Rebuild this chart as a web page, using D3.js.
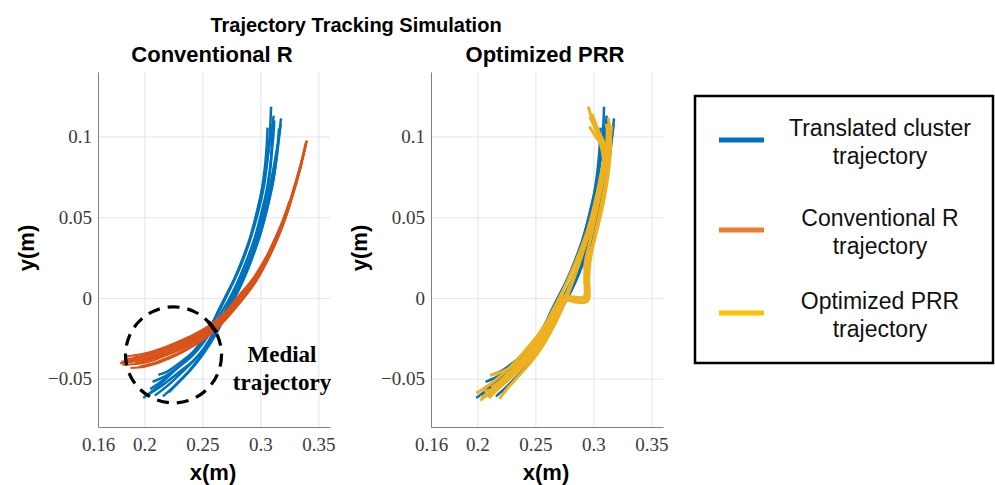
<!DOCTYPE html>
<html>
<head>
<meta charset="utf-8">
<script src="https://cdn.jsdelivr.net/npm/d3@7"></script>
<style>
  body { margin: 0; background: #fff; }
</style>
</head>
<body>
<div id="chart"></div>
<script>
// chart size
const width = 995;
const height = 485;

// tick values shared by both panels
const xTicks = [0.16, 0.2, 0.25, 0.3, 0.35];
const yTicks = [-0.05, 0, 0.05, 0.1];
const xDomain = [0.16, 0.36];
const yDomain = [-0.08, 0.14];

const panelTitles = ["Conventional R", "Optimized PRR"];
const legendLabels = [
  ["Translated cluster", "trajectory"],
  ["Conventional R", "trajectory"],
  ["Optimized PRR", "trajectory"]
];

// translated cluster runs (x, y in m)
const blueRuns = [
  [[0.199,-0.062],[0.21,-0.056],[0.223,-0.047],[0.235,-0.039],[0.245,-0.031],[0.254,-0.022],[0.262,-0.0115],[0.269,-0.0015],[0.276,0.009],[0.283,0.02],[0.29,0.034],[0.296,0.05],[0.301,0.066],[0.304,0.082],[0.3055,0.095],[0.3062,0.1055]],
  [[0.212,-0.0477],[0.22,-0.0455],[0.231,-0.04],[0.242,-0.0335],[0.25,-0.026],[0.257,-0.018],[0.264,-0.008],[0.271,0.002],[0.278,0.012],[0.285,0.024],[0.292,0.038],[0.298,0.053],[0.303,0.069],[0.306,0.085],[0.308,0.1],[0.3092,0.1185]],
  [[0.203,-0.06],[0.215,-0.0545],[0.229,-0.0465],[0.242,-0.039],[0.252,-0.031],[0.261,-0.0215],[0.269,-0.011],[0.277,-0.001],[0.284,0.009],[0.291,0.021],[0.298,0.035],[0.304,0.05],[0.309,0.066],[0.313,0.082],[0.3155,0.097],[0.3178,0.1113]],
  [[0.216,-0.061],[0.226,-0.0545],[0.237,-0.0465],[0.246,-0.0385],[0.254,-0.0305],[0.262,-0.021],[0.27,-0.0105],[0.277,-0.0005],[0.284,0.01],[0.29,0.022],[0.297,0.036],[0.303,0.052],[0.308,0.068],[0.312,0.083],[0.315,0.096],[0.316,0.105]],
  [[0.207,-0.052],[0.218,-0.0485],[0.23,-0.0425],[0.241,-0.036],[0.25,-0.0285],[0.258,-0.02],[0.266,-0.0095],[0.274,0.0005],[0.281,0.011],[0.288,0.023],[0.295,0.037],[0.301,0.053],[0.306,0.069],[0.309,0.085],[0.311,0.099],[0.312,0.11]],
  [[0.209,-0.0605],[0.219,-0.055],[0.231,-0.047],[0.243,-0.0385],[0.252,-0.0305],[0.26,-0.021],[0.268,-0.0105],[0.275,-0.0005],[0.282,0.0095],[0.289,0.021],[0.296,0.035],[0.302,0.051],[0.306,0.067],[0.309,0.083],[0.3098,0.095],[0.3098,0.103]],
  [[0.205,-0.0565],[0.216,-0.051],[0.228,-0.0435],[0.239,-0.036],[0.248,-0.0285],[0.256,-0.0195],[0.263,-0.009],[0.27,0.001],[0.277,0.011],[0.284,0.023],[0.291,0.037],[0.297,0.053],[0.302,0.069],[0.306,0.086],[0.309,0.101],[0.3115,0.113]],
  [[0.221,-0.0585],[0.23,-0.052],[0.24,-0.0445],[0.249,-0.0365],[0.257,-0.028],[0.265,-0.018],[0.272,-0.0075],[0.279,0.0025],[0.286,0.0135],[0.293,0.026],[0.3,0.04],[0.306,0.056],[0.311,0.072],[0.314,0.087],[0.316,0.099],[0.3175,0.1075]]
];

// conventional R runs
const orangeRuns = [
  [[0.179,-0.0405],[0.19,-0.0395],[0.2,-0.0382],[0.214,-0.0352],[0.228,-0.031],[0.243,-0.0255],[0.257,-0.019],[0.27,-0.0105],[0.2825,0.0],[0.295,0.0112],[0.306,0.025],[0.314,0.037],[0.32,0.0475],[0.326,0.06],[0.331,0.072],[0.336,0.085],[0.3399,0.0973]],
  [[0.183,-0.0365],[0.2,-0.0345],[0.214,-0.0315],[0.228,-0.0275],[0.243,-0.0225],[0.257,-0.0165],[0.27,-0.0085],[0.2815,0.0015],[0.294,0.0125],[0.305,0.0255],[0.313,0.0375],[0.3195,0.048],[0.3255,0.06],[0.3305,0.072],[0.3355,0.085],[0.339,0.0955]],
  [[0.188,-0.0435],[0.2,-0.0425],[0.214,-0.0395],[0.228,-0.0355],[0.243,-0.0295],[0.257,-0.0225],[0.27,-0.0135],[0.283,-0.0025],[0.2955,0.0095],[0.3065,0.0235],[0.3145,0.036],[0.3205,0.047],[0.3265,0.06],[0.3315,0.072],[0.336,0.084]],
  [[0.181,-0.0415],[0.2,-0.0402],[0.214,-0.037],[0.228,-0.033],[0.243,-0.0275],[0.257,-0.0205],[0.27,-0.012],[0.2828,-0.001],[0.2952,0.0105],[0.306,0.024],[0.314,0.0365],[0.32,0.0472],[0.326,0.0598],[0.331,0.0718],[0.336,0.0848],[0.3397,0.0968]],
  [[0.185,-0.038],[0.2,-0.0362],[0.214,-0.0332],[0.228,-0.029],[0.243,-0.024],[0.257,-0.0178],[0.27,-0.0095],[0.282,0.0008],[0.2945,0.012],[0.3055,0.0255],[0.3135,0.0375],[0.3195,0.0478],[0.3255,0.0602],[0.3305,0.0722],[0.3355,0.0852],[0.3395,0.0972]],
  [[0.195,-0.0428],[0.205,-0.041],[0.214,-0.0388],[0.228,-0.0345],[0.243,-0.0288],[0.257,-0.0215],[0.27,-0.0128],[0.2832,-0.002],[0.2958,0.01],[0.3065,0.024],[0.3145,0.0365],[0.3205,0.0472],[0.326,0.059]],
  [[0.19,-0.037],[0.2,-0.0355],[0.214,-0.0322],[0.228,-0.0282],[0.243,-0.023],[0.257,-0.017],[0.27,-0.009],[0.2818,0.001],[0.2942,0.0122],[0.3052,0.0255],[0.3132,0.0378],[0.3192,0.048],[0.325,0.06]],
  [[0.192,-0.0405],[0.2,-0.0392],[0.214,-0.036],[0.228,-0.032],[0.243,-0.0265],[0.257,-0.0198],[0.27,-0.0112],[0.2826,-0.0005],[0.295,0.0108],[0.306,0.0245],[0.314,0.037],[0.32,0.0475],[0.326,0.06],[0.331,0.0722],[0.336,0.0852],[0.34,0.0975]],
  [[0.197,-0.0432],[0.205,-0.0418],[0.214,-0.0398],[0.228,-0.0352],[0.243,-0.0292],[0.257,-0.022],[0.27,-0.013],[0.2832,-0.0022],[0.2955,0.0098],[0.306,0.0238]],
  [[0.18,-0.0395],[0.2,-0.0372],[0.214,-0.0342],[0.228,-0.03],[0.243,-0.0248],[0.257,-0.0185],[0.27,-0.01],[0.2822,0.0004],[0.2948,0.0115],[0.3058,0.025],[0.3138,0.037],[0.3198,0.0476],[0.3258,0.06],[0.3308,0.072],[0.3358,0.085],[0.3398,0.097]]
];

// optimized PRR runs
const yellowRuns = [
  [[0.2025,-0.0635],[0.214,-0.057],[0.227,-0.049],[0.241,-0.039],[0.254,-0.028],[0.265,-0.016],[0.274,-0.003],[0.282,0.011],[0.29,0.027],[0.298,0.045],[0.305,0.065],[0.309,0.082],[0.306,0.096],[0.3,0.108],[0.2956,0.1185]],
  [[0.21,-0.062],[0.218,-0.056],[0.23,-0.047],[0.243,-0.036],[0.255,-0.024],[0.265,-0.012],[0.273,-0.002],[0.284,-0.0015],[0.295,-0.002],[0.2952,0.01],[0.2955,0.021],[0.3,0.035],[0.306,0.055],[0.311,0.075],[0.312,0.09],[0.305,0.102],[0.297,0.1123]],
  [[0.199,-0.059],[0.207,-0.0555],[0.219,-0.049],[0.232,-0.04],[0.245,-0.0295],[0.257,-0.018],[0.267,-0.005],[0.276,0.008],[0.285,0.023],[0.294,0.04],[0.302,0.06],[0.308,0.078],[0.309,0.092],[0.302,0.1],[0.2965,0.1062]],
  [[0.209,-0.06],[0.22,-0.052],[0.233,-0.0425],[0.246,-0.031],[0.258,-0.019],[0.267,-0.008],[0.2727,-0.001],[0.284,-0.0025],[0.2935,-0.0025],[0.294,0.008],[0.2945,0.019],[0.301,0.036],[0.308,0.057],[0.313,0.078],[0.315,0.096],[0.3128,0.1117]],
  [[0.211,-0.048],[0.222,-0.0455],[0.235,-0.04],[0.248,-0.031],[0.26,-0.02],[0.27,-0.008],[0.279,0.006],[0.288,0.022],[0.296,0.04],[0.303,0.06],[0.31,0.08],[0.314,0.095],[0.3158,0.107]],
  [[0.203,-0.0615],[0.216,-0.057],[0.232,-0.047],[0.246,-0.036],[0.258,-0.024],[0.268,-0.011],[0.277,0.003],[0.285,0.018],[0.293,0.036],[0.3,0.055],[0.306,0.075],[0.309,0.09],[0.303,0.103],[0.297,0.112]],
  [[0.215,-0.0585],[0.226,-0.05],[0.238,-0.04],[0.25,-0.029],[0.261,-0.017],[0.27,-0.006],[0.2735,0.0],[0.29,0.0],[0.2955,-0.001],[0.296,0.012],[0.297,0.022],[0.302,0.04],[0.309,0.062],[0.313,0.082],[0.313,0.1],[0.311,0.108]],
  [[0.206,-0.058],[0.219,-0.055],[0.234,-0.046],[0.248,-0.036],[0.26,-0.0245],[0.27,-0.0115],[0.278,0.002],[0.286,0.018],[0.294,0.036],[0.301,0.054],[0.307,0.074],[0.311,0.092],[0.312,0.104]],
  [[0.212,-0.0555],[0.222,-0.05],[0.235,-0.041],[0.248,-0.03],[0.259,-0.018],[0.268,-0.006],[0.274,0.001],[0.285,0.0],[0.292,0.0005],[0.2925,0.012],[0.293,0.022],[0.298,0.038],[0.304,0.058],[0.309,0.078],[0.31,0.094],[0.304,0.104],[0.299,0.114]],
  [[0.219,-0.0625],[0.226,-0.056],[0.236,-0.048],[0.247,-0.039],[0.256,-0.03],[0.264,-0.02],[0.271,-0.009],[0.278,0.003],[0.285,0.016],[0.292,0.031],[0.299,0.048],[0.305,0.066],[0.31,0.084],[0.3125,0.098],[0.313,0.105]]
];

// annotation in the left panel (data units)
const medialCircle = [0.2251, -0.0353, 0.0414];   // cx, cy, radius in x units
const medialMark = [[0.2551, -0.0147], [0.2623, -0.0215]];

// colours
const plotBlue = "#0072BD";
const plotOrange = "#D95319";
const plotYellow = "#EDB120";
const legendColors = ["#0070C0", "#ED7D31", "#FFC000"];

const sans = "'Liberation Sans', Arial, sans-serif";
const serif = "'Liberation Serif', 'Times New Roman', serif";

const svg = d3.select("#chart").append("svg")
  .attr("width", width)
  .attr("height", height)
  .attr("viewBox", [0, 0, width, height]);

// main title
svg.append("text")
  .attr("x", 356)
  .attr("y", 32)
  .attr("text-anchor", "middle")
  .attr("font-family", sans)
  .attr("font-weight", "bold")
  .attr("font-size", 20)
  .attr("fill", "#000")
  .text("Trajectory Tracking Simulation");

function makePanel(left, title, runs) {
  const top = 72, bottom = 427, right = left + 232;

  const x = d3.scaleLinear().domain(xDomain).range([left, right]);
  const y = d3.scaleLinear().domain(yDomain).range([bottom, top]);

  const g = svg.append("g");

  // grid
  g.append("g")
    .attr("transform", `translate(0,${bottom})`)
    .call(d3.axisBottom(x).tickValues(xTicks).tickSize(-(bottom - top)).tickFormat(""))
    .call(a => a.select(".domain").remove())
    .call(a => a.selectAll("line").attr("stroke", "#e4e4e4"));
  g.append("g")
    .attr("transform", `translate(${left},0)`)
    .call(d3.axisLeft(y).tickValues(yTicks).tickSize(-(right - left)).tickFormat(""))
    .call(a => a.select(".domain").remove())
    .call(a => a.selectAll("line").attr("stroke", "#e4e4e4"));

  // axes
  g.append("g")
    .attr("transform", `translate(0,${bottom})`)
    .call(d3.axisBottom(x).tickValues(xTicks).tickSize(0).tickPadding(11).tickFormat(d => String(d)))
    .call(a => a.select(".domain").attr("stroke", "#808080"))
    .call(a => a.selectAll("text")
      .attr("font-family", serif)
      .attr("font-size", 19)
      .attr("fill", "#3a3a3a"));
  g.append("g")
    .attr("transform", `translate(${left},0)`)
    .call(d3.axisLeft(y).tickValues(yTicks).tickSize(0).tickPadding(6)
      .tickFormat(d => String(d).replace("-", "\u2212")))
    .call(a => a.select(".domain").attr("stroke", "#808080"))
    .call(a => a.selectAll("text")
      .attr("font-family", serif)
      .attr("font-size", 19)
      .attr("fill", "#3a3a3a"));

  // titles / labels
  g.append("text")
    .attr("x", (left + right) / 2 - 2)
    .attr("y", 62)
    .attr("text-anchor", "middle")
    .attr("font-family", sans)
    .attr("font-weight", "bold")
    .attr("font-size", 22)
    .text(title);
  g.append("text")
    .attr("x", (left + right) / 2 - 1)
    .attr("y", 480)
    .attr("text-anchor", "middle")
    .attr("font-family", sans)
    .attr("font-weight", "bold")
    .attr("font-size", 22)
    .text("x(m)");
  g.append("text")
    .attr("transform", `translate(${left - 64},248) rotate(-90)`)
    .attr("text-anchor", "middle")
    .attr("font-family", sans)
    .attr("font-weight", "bold")
    .attr("font-size", 22)
    .text("y(m)");

  const line = d3.line()
    .x(d => x(d[0]))
    .y(d => y(d[1]))
    .curve(d3.curveCatmullRom.alpha(0.5));

  // the blue cluster goes underneath in both panels
  g.append("g")
    .selectAll("path")
    .data(blueRuns)
    .join("path")
      .attr("d", line)
      .attr("fill", "none")
      .attr("stroke", plotBlue)
      .attr("stroke-width", 2.5)
      .attr("stroke-linejoin", "round");

  g.append("g")
    .selectAll("path")
    .data(runs.data)
    .join("path")
      .attr("d", line)
      .attr("fill", "none")
      .attr("stroke", runs.color)
      .attr("stroke-width", runs.width)
      .attr("stroke-linejoin", "round");

  return { g: g, x: x, y: y };
}

const p1 = makePanel(98, panelTitles[0], { data: orangeRuns, color: plotOrange, width: 2 });
const p2 = makePanel(431, panelTitles[1], { data: yellowRuns, color: plotYellow, width: 3 });

// dashed circle + mark + note on the left panel
p1.g.append("circle")
  .attr("cx", p1.x(medialCircle[0]))
  .attr("cy", p1.y(medialCircle[1]))
  .attr("r", p1.x(medialCircle[0] + medialCircle[2]) - p1.x(medialCircle[0]))
  .attr("fill", "none")
  .attr("stroke", "#000")
  .attr("stroke-width", 3.2)
  .attr("stroke-dasharray", "12,8");

p1.g.append("line")
  .attr("x1", p1.x(medialMark[0][0]))
  .attr("y1", p1.y(medialMark[0][1]))
  .attr("x2", p1.x(medialMark[1][0]))
  .attr("y2", p1.y(medialMark[1][1]))
  .attr("stroke", "#000")
  .attr("stroke-width", 4);

p1.g.append("text")
  .attr("x", 282)
  .attr("y", 362)
  .attr("text-anchor", "middle")
  .attr("font-family", serif)
  .attr("font-weight", "bold")
  .attr("font-size", 23)
  .text("Medial");
p1.g.append("text")
  .attr("x", 282)
  .attr("y", 390)
  .attr("text-anchor", "middle")
  .attr("font-family", serif)
  .attr("font-weight", "bold")
  .attr("font-size", 23)
  .text("trajectory");

// legend
const legend = svg.append("g");
legend.append("rect")
  .attr("x", 695)
  .attr("y", 96)
  .attr("width", 298)
  .attr("height", 267)
  .attr("fill", "#fff")
  .attr("stroke", "#000")
  .attr("stroke-width", 2.5);

const legendY = [140, 230, 313];
legendLabels.forEach((lab, i) => {
  legend.append("line")
    .attr("x1", 719)
    .attr("x2", 764)
    .attr("y1", legendY[i])
    .attr("y2", legendY[i])
    .attr("stroke", legendColors[i])
    .attr("stroke-width", 5);
  lab.forEach((t, j) => {
    legend.append("text")
      .attr("x", 880)
      .attr("y", legendY[i] - 4 + j * 28)
      .attr("text-anchor", "middle")
      .attr("font-family", sans)
      .attr("font-size", 23)
      .attr("fill", "#111")
      .text(t);
  });
});
</script>
</body>
</html>
